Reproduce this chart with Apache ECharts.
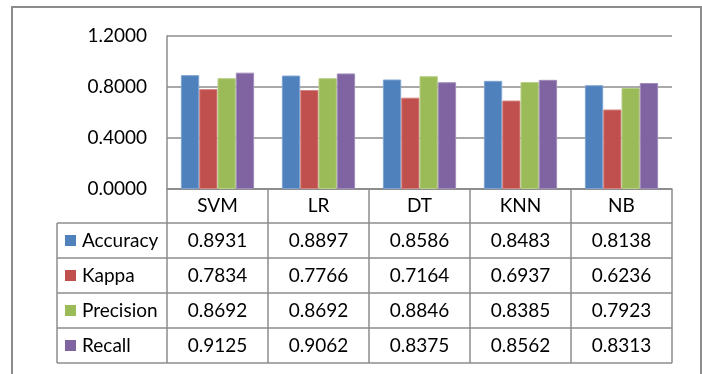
<!DOCTYPE html>
<html>
<head>
<meta charset="utf-8">
<script src="https://cdn.jsdelivr.net/npm/echarts@6/dist/echarts.min.js"></script>
<style>
  html, body { margin: 0; padding: 0; background: #ffffff; }
  #chart { width: 702px; height: 374px; }
</style>
</head>
<body>
<div id="chart"></div>
<script>
// Classifier comparison data
const categories = ['SVM', 'LR', 'DT', 'KNN', 'NB'];
const seriesNames = ['Accuracy', 'Kappa', 'Precision', 'Recall'];
const accuracy = [0.8931, 0.8897, 0.8586, 0.8483, 0.8138];
const kappa = [0.7834, 0.7766, 0.7164, 0.6937, 0.6236];
const precision = [0.8692, 0.8692, 0.8846, 0.8385, 0.7923];
const recall = [0.9125, 0.9062, 0.8375, 0.8562, 0.8313];
const yTickMin = 0;
const yTickMax = 1.2;
const yTickStep = 0.4;

const seriesValues = [accuracy, kappa, precision, recall];
const colors = ['#4F81BD', '#C0504D', '#9BBB59', '#8064A2'];
const borders = ['#7FA3D1', '#D48482', '#B6CE85', '#A08CBC'];

const FONT = 'Lato';
const FS = 19;
const LINE = '#8c8c8c';

// plot area geometry
const G = { left: 167, top: 36, width: 505, height: 153 };
const legendLeft = 57;
const rowH = [34, 35, 35, 35, 35];

const chart = echarts.init(document.getElementById('chart'), null, { renderer: 'canvas' });

chart.setOption({
  animation: false,
  backgroundColor: '#ffffff',
  grid: { left: G.left, top: G.top, width: G.width, height: G.height, containLabel: false },
  xAxis: {
    type: 'category',
    data: categories,
    axisLine: { show: true, lineStyle: { color: LINE, width: 1.5 } },
    axisTick: { show: false },
    axisLabel: { show: false },
    splitLine: { show: false }
  },
  yAxis: {
    type: 'value',
    min: yTickMin,
    max: yTickMax,
    interval: yTickStep,
    axisLine: { show: true, lineStyle: { color: LINE, width: 1.5 } },
    axisTick: { show: false },
    axisLabel: {
      formatter: v => v.toFixed(4),
      fontFamily: FONT, fontSize: FS, color: '#000', margin: 20
    },
    splitLine: { show: true, lineStyle: { color: LINE, width: 1.5 } }
  },
  series: seriesNames.map((name, i) => ({
    name,
    type: 'bar',
    data: seriesValues[i],
    barGap: '0%',
    barCategoryGap: '27.5%',
    itemStyle: { color: colors[i], borderColor: borders[i], borderWidth: 1 }
  }))
});

// Data table underneath the plot, aligned to the category axis
function buildTable() {
  const centers = categories.map((c, i) => chart.convertToPixel({ xAxisIndex: 0 }, i));
  const half = G.width / categories.length / 2;
  const bounds = [centers[0] - half].concat(centers.map(c => c + half));
  const right = bounds[bounds.length - 1];
  const y0 = G.top + G.height;
  const rows = [y0];
  rowH.forEach(h => rows.push(rows[rows.length - 1] + h));
  const bottom = rows[rows.length - 1];

  const els = [];
  const line = (x1, y1, x2, y2) => els.push({
    type: 'line', silent: true,
    shape: { x1, y1, x2, y2 },
    style: { stroke: LINE, lineWidth: 1.5 }
  });
  const text = (x, y, str, align) => els.push({
    type: 'text', silent: true, x, y,
    style: { text: str, fill: '#000', font: FS + 'px ' + FONT, align: align || 'center', verticalAlign: 'middle' }
  });

  // outer chart frame
  els.push({
    type: 'rect', silent: true,
    shape: { x: 12, y: 7, width: 689, height: 420 },
    style: { fill: 'none', stroke: LINE, lineWidth: 2 }
  });

  // horizontal rules
  line(bounds[0], rows[0], right, rows[0]);
  for (let r = 1; r < rows.length; r++) line(legendLeft, rows[r], right, rows[r]);
  // vertical rules
  line(legendLeft, rows[1], legendLeft, bottom);
  bounds.forEach(x => line(x, rows[0], x, bottom));

  // header row: category names
  categories.forEach((c, i) => text(centers[i], (rows[0] + rows[1]) / 2, c));

  // value rows with legend keys
  seriesNames.forEach((name, s) => {
    const cy = (rows[s + 1] + rows[s + 2]) / 2;
    els.push({
      type: 'rect', silent: true,
      shape: { x: 65, y: cy - 5.5, width: 11, height: 11 },
      style: { fill: colors[s] }
    });
    text(82, cy, name, 'left');
    seriesValues[s].forEach((v, i) => text(centers[i], cy, v.toFixed(4)));
  });

  chart.setOption({ graphic: { elements: els } });
}
buildTable();
</script>
</body>
</html>
